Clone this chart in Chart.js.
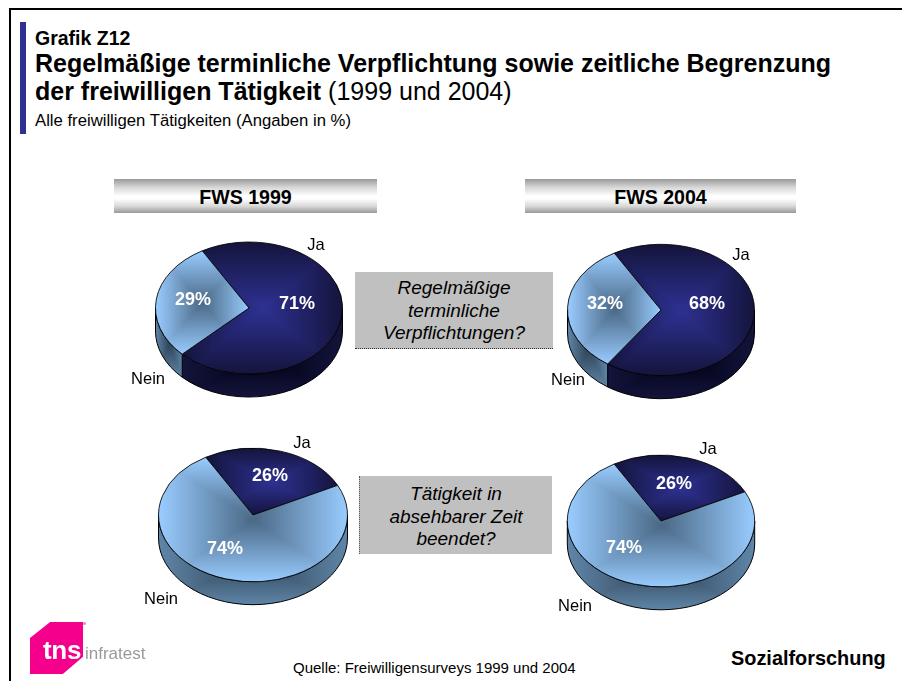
<!DOCTYPE html>
<html lang="de">
<head>
<meta charset="utf-8">
<title>Grafik Z12</title>
<script src="https://cdn.jsdelivr.net/npm/chart.js@4/dist/chart.umd.min.js"></script>
<style>
html,body{margin:0;padding:0;background:#fff;}
body{width:902px;height:681px;overflow:hidden;position:relative;font-family:"Liberation Sans",Arial,sans-serif;color:#000;}
.a{position:absolute;white-space:nowrap;}
canvas{position:absolute;}
.bar{position:absolute;top:179px;height:34px;line-height:36px;text-align:center;font-weight:bold;font-size:19.6px;
 background:linear-gradient(to bottom,#999 0%,#d8d8d8 25%,#fff 50%,#fff 58%,#d8d8d8 80%,#999 100%);}
.q{position:absolute;background:#c0c0c0;text-align:center;font-style:italic;font-size:19px;line-height:22.5px;}
</style>
</head>
<body>
<div class="a" style="left:9px;top:8px;width:893px;height:2px;background:#000"></div>
<div class="a" style="left:9px;top:8px;width:2px;height:673px;background:#000"></div>
<div class="a" style="left:20px;top:22px;width:6px;height:112px;background:#2e3192"></div>

<div class="a" style="left:35px;top:29px;font-size:19.5px;font-weight:bold;line-height:18px">Grafik Z12</div>
<div class="a" style="left:35px;top:49px;font-size:25px;font-weight:bold;line-height:28px">Regelmäßige terminliche Verpflichtung sowie zeitliche Begrenzung</div>
<div class="a" style="left:35px;top:77px;font-size:25px;line-height:28px"><b>der freiwilligen Tätigkeit</b> (1999 und 2004)</div>
<div class="a" style="left:35px;top:112px;font-size:16.7px;line-height:18px">Alle freiwilligen Tätigkeiten (Angaben in %)</div>

<div class="bar" style="left:114px;width:263px">FWS 1999</div>
<div class="bar" style="left:525px;width:271px">FWS 2004</div>

<div class="q" style="left:355px;top:272px;width:198px;height:77px;padding-top:5px;box-sizing:border-box;border-bottom:1px dotted #333">Regelmäßige<br>terminliche<br>Verpflichtungen?</div>
<div class="q" style="left:359px;top:476px;width:193px;height:78px;padding-top:7px;box-sizing:border-box;border-left:1px dotted #555">Tätigkeit in<br>absehbarer Zeit<br>beendet?</div>

<canvas id="pie1" width="240" height="240" style="left:129px;top:188px"></canvas>
<canvas id="pie2" width="240" height="240" style="left:541px;top:190px"></canvas>
<canvas id="pie3" width="240" height="240" style="left:133px;top:395px"></canvas>
<canvas id="pie4" width="240" height="240" style="left:541px;top:401px"></canvas>

<div class="a" style="left:293px;top:660px;font-size:15px;line-height:16px">Quelle: Freiwilligensurveys 1999 und 2004</div>
<div class="a" style="left:731px;top:648px;font-size:19.9px;font-weight:bold;line-height:20px">Sozialforschung</div>

<div class="a" style="left:30px;top:622px;width:53px;height:52px;background:#f5008c;clip-path:polygon(0 31%,38% 0,100% 0,100% 67%,62% 100%,0 100%);filter:blur(.4px)"></div>
<div class="a" style="left:83px;top:622px;width:3px;height:3px;border-radius:2px;background:#f080b8"></div>
<div class="a" style="left:43px;top:635px;font-size:26px;font-weight:bold;line-height:30px;color:#fff;letter-spacing:-.3px;filter:blur(.3px)">tns</div>
<div class="a" style="left:85px;top:644px;font-size:17px;line-height:20px;color:#9a9a9a;filter:blur(.3px)">infratest</div>

<script>
const categories = ['Ja', 'Nein'];
const valuesRegel1999 = [71, 29];
const valuesRegel2004 = [68, 32];
const valuesEnde1999 = [26, 74];
const valuesEnde2004 = [26, 74];

const rotationDeg = -30;
const sliceCenter = ['#2e3192', '#4a6885'];
const sliceEdge = ['#14143c', '#99ccff'];
const wallCenter = ['#000014', '#2f4256'];
const wallEdge = ['#14143c', '#5f86a8'];
const FONT = '"Liberation Sans", Arial, sans-serif';

const pies = [
  {id:'pie1', values:valuesRegel1999, r:93.5, ry:66, depth:23,
   pct:[[48,-4],[-56,-8]], names:[[67,-63],[-101,71]]},
  {id:'pie2', values:valuesRegel2004, r:93.5, ry:65.7, depth:23,
   pct:[[46,-6],[-56,-6]], names:[[80,-55],[-93,70]]},
  {id:'pie3', values:valuesEnde1999, r:94.5, ry:66.7, depth:23,
   pct:[[17,-39],[-28,34]], names:[[49,-72],[-92,84]]},
  {id:'pie4', values:valuesEnde2004, r:93.7, ry:65.8, depth:23,
   pct:[[13,-37],[-37,27]], names:[[47,-72],[-86,85]]}
];

function hex(c){return [1,3,5].map(i=>parseInt(c.substr(i,2),16));}
function rectGradient(size, box, cIn, cOut){
  const off=document.createElement('canvas');off.width=size;off.height=size;
  const g=off.getContext('2d'),im=g.createImageData(size,size),a=hex(cIn),b=hex(cOut);
  const mx=(box.x0+box.x1)/2,my=(box.y0+box.y1)/2,hw=Math.max(1,(box.x1-box.x0)/2),hh=Math.max(1,(box.y1-box.y0)/2);
  for(let y=0;y<size;y++)for(let x=0;x<size;x++){
    const t=Math.min(1,Math.max(Math.abs(x-mx)/hw,Math.abs(y-my)/hh)),i=(y*size+x)*4;
    for(let k=0;k<3;k++)im.data[i+k]=a[k]+(b[k]-a[k])*t;
    im.data[i+3]=255;
  }
  g.putImageData(im,0,0);
  return off;
}
function sliceBox(a0,a1,c,r){
  const xs=[c,c+r*Math.cos(a0),c+r*Math.cos(a1)],ys=[c,c+r*Math.sin(a0),c+r*Math.sin(a1)];
  for(let n=-2;n<=6;n++){const q=n*Math.PI/2;if(q>a0&&q<a1){xs.push(c+r*Math.cos(q));ys.push(c+r*Math.sin(q));}}
  return {x0:Math.min(...xs),x1:Math.max(...xs),y0:Math.min(...ys),y1:Math.max(...ys)};
}
function sliceAngles(values){
  const sum=values.reduce((p,v)=>p+v,0);let a=rotationDeg*Math.PI/180-Math.PI/2;
  return values.map(v=>{const s=a;a+=v/sum*2*Math.PI;return [s,a];});
}

const pieLook = {
  id:'pieLook',
  beforeDatasetsDraw(chart, args, o){
    const ctx=chart.ctx, arcs=chart.getDatasetMeta(0).data, cx=arcs[0].x, cy=arcs[0].y, k=o.ry/o.r;
    arcs.forEach((arc,i)=>{
      let a0=arc.startAngle,a1=arc.endAngle;
      for(const shift of [0,-2*Math.PI,2*Math.PI]){
        const s=Math.max(a0+shift,0),e=Math.min(a1+shift,Math.PI);
        if(e<=s) continue;
        const xs=[cx+o.r*Math.cos(s),cx+o.r*Math.cos(e)];
        if(s<Math.PI/2&&e>Math.PI/2)xs.push(cx);
        const ysTop=[cy+o.ry*Math.sin(s),cy+o.ry*Math.sin(e)];
        if(s<Math.PI/2&&e>Math.PI/2)ysTop.push(cy+o.ry);
        const box={x0:Math.min(...xs),x1:Math.max(...xs),y0:Math.min(...ysTop),y1:Math.max(...ysTop)+o.depth};
        ctx.save();
        ctx.beginPath();
        ctx.ellipse(cx,cy,o.r,o.ry,0,s,e,false);
        ctx.ellipse(cx,cy+o.depth,o.r,o.ry,0,e,s,true);
        ctx.closePath();
        ctx.fillStyle=ctx.createPattern(rectGradient(chart.width,box,wallCenter[i],wallEdge[i]),'no-repeat');
        ctx.fill();
        ctx.strokeStyle='#000';ctx.lineWidth=1;ctx.stroke();
        ctx.restore();
      }
    });
    ctx.save();
    ctx.translate(cx,cy);ctx.scale(1,k);ctx.translate(-cx,-cy);
  },
  afterDatasetsDraw(chart, args, o){
    const ctx=chart.ctx, arc=chart.getDatasetMeta(0).data[0], cx=arc.x, cy=arc.y;
    ctx.restore();
    ctx.save();
    ctx.textAlign='center';ctx.textBaseline='middle';
    chart.data.datasets[0].data.forEach((v,i)=>{
      ctx.font='bold 18px '+FONT;ctx.fillStyle='#fff';
      ctx.fillText(v+'%',cx+o.pct[i][0],cy+o.pct[i][1]);
      ctx.font='16.5px '+FONT;ctx.fillStyle='#000';
      ctx.fillText(chart.data.labels[i],cx+o.names[i][0],cy+o.names[i][1]);
    });
    ctx.restore();
  }
};

pies.forEach(p=>{
  const el=document.getElementById(p.id), size=el.width, c=size/2, g=el.getContext('2d');
  const fills=sliceAngles(p.values).map((a,i)=>g.createPattern(
    rectGradient(size,sliceBox(a[0],a[1],c,p.r),sliceCenter[i],sliceEdge[i]),'no-repeat'));
  new Chart(el,{
    type:'pie',
    data:{labels:categories,datasets:[{data:p.values,backgroundColor:fills,borderColor:'#000',borderWidth:1,hoverOffset:0}]},
    plugins:[pieLook],
    options:{
      responsive:false,animation:false,rotation:rotationDeg,radius:p.r,
      layout:{padding:0},events:[],
      plugins:{legend:{display:false},tooltip:{enabled:false},title:{display:false},
        pieLook:{r:p.r,ry:p.ry,depth:p.depth,pct:p.pct,names:p.names}}
    }
  });
});
</script>
</body>
</html>
